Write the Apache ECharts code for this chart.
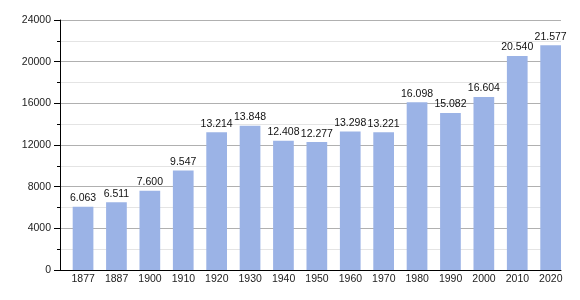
<!DOCTYPE html>
<html><head><meta charset="utf-8">
<script src="https://cdn.jsdelivr.net/npm/echarts@6/dist/echarts.min.js"></script>
<style>html,body{margin:0;padding:0;background:#fff}#c{width:580px;height:300px}</style>
</head><body><div id="c"></div>
<script>
const years = ["1877","1887","1900","1910","1920","1930","1940","1950","1960","1970","1980","1990","2000","2010","2020"];
const population = [6063,6511,7600,9547,13214,13848,12408,12277,13298,13221,16098,15082,16604,20540,21577];
const yTicks = [0,4000,8000,12000,16000,20000,24000];

function fmt(v){return String(v).replace(/\B(?=(\d{3})+(?!\d))/g,'.');}
const FONT = 'Liberation Sans, Arial, sans-serif';
const chart = echarts.init(document.getElementById('c'), null, {renderer:'canvas'});
chart.setOption({
  animation:false,
  grid:{left:60,right:19,top:20,bottom:30},
  xAxis:{type:'category',data:years,
    axisLine:{lineStyle:{color:'#000',width:1}},
    axisTick:{show:false},
    axisLabel:{color:'#222',fontSize:10.5,fontFamily:FONT,margin:4,
      // labels centred under the visible bar (shifted right of slot centre)
      padding:[0,0,0,13]}
  },
  yAxis:{type:'value',min:yTicks[0],max:yTicks[yTicks.length-1],interval:4000,
    axisLine:{show:true,lineStyle:{color:'#000',width:1}},
    axisTick:{show:true,length:6,inside:false,lineStyle:{color:'#000'}},
    minorTick:{show:true,splitNumber:2,length:3,lineStyle:{color:'#000'}},
    splitLine:{show:true,lineStyle:{color:'#b0b0b0',width:1}},
    minorSplitLine:{show:true,lineStyle:{color:'#e4e4e4',width:1}},
    axisLabel:{color:'#222',fontSize:10.5,fontFamily:FONT,margin:9,formatter:v=>String(v)}
  },
  series:[
    {type:'bar',data:population.map(()=>0),barWidth:'38%',barGap:'0%',barCategoryGap:'0%',
      itemStyle:{color:'rgba(0,0,0,0)'},label:{show:false},silent:true},
    {type:'bar',data:population,barWidth:'62%',barGap:'0%',barCategoryGap:'0%',
      itemStyle:{color:'#9bb3e6'},
      label:{show:true,position:'top',distance:3,color:'#111',fontSize:10.5,fontFamily:FONT,
        formatter:p=>fmt(p.value)}
    }]
});
</script></body></html>
